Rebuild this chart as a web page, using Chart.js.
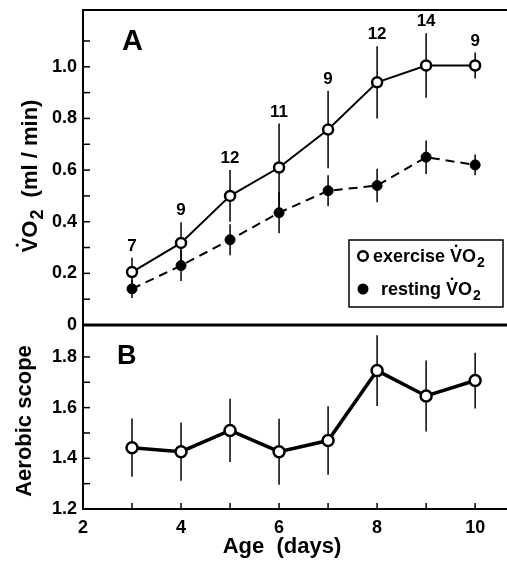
<!DOCTYPE html>
<html>
<head>
<meta charset="utf-8">
<script src="https://cdn.jsdelivr.net/npm/chart.js@4.4.1/dist/chart.umd.min.js"></script>
<style>
html, body { margin: 0; padding: 0; background: #fff; }
#wrap { position: relative; width: 507px; height: 564px; overflow: hidden; }
#top { position: absolute; left: 0; top: 0; z-index: 2; }
#bot { position: absolute; left: 0; top: 325px; z-index: 1; }
</style>
</head>
<body>
<div id="wrap">
  <canvas id="bot" width="507" height="239" style="width:507px;height:239px"></canvas>
  <canvas id="top" width="507" height="340" style="width:507px;height:340px"></canvas>
</div>
<script>
// values
var ages = [3, 4, 5, 6, 7, 8, 9, 10];
var exerciseVO2 = [0.205, 0.318, 0.50, 0.61, 0.757, 0.94, 1.005, 1.005];
var exerciseErr = [0.055, 0.08, 0.10, 0.17, 0.15, 0.14, 0.125, 0.05];
var restingVO2 = [0.14, 0.23, 0.33, 0.435, 0.52, 0.54, 0.65, 0.62];
var restingErr = [0.035, 0.06, 0.06, 0.08, 0.06, 0.065, 0.065, 0.04];
var sampleN = [7, 9, 12, 11, 9, 12, 14, 9];
var aerobicScope = [1.442, 1.426, 1.51, 1.426, 1.47, 1.746, 1.646, 1.707];
var scopeErr = [0.115, 0.115, 0.125, 0.13, 0.135, 0.14, 0.14, 0.11];

var FONT = '"Liberation Sans", Arial, Helvetica, sans-serif';
Chart.defaults.font.family = FONT;
Chart.defaults.color = '#000';

function pts(ys) {
    return ages.map(function (a, i) { return { x: a, y: ys[i] }; });
}

// fixed axis sizes, no automatic label padding
function fixY(s) { s.width = 83; s.paddingTop = 0; s.paddingBottom = 0; }
function fixX(s) { s.height = 55; s.paddingLeft = 0; s.paddingRight = 0; }

// draws V-dot O subscript 2, left aligned on baseline y, returns width
function drawVO2(ctx, x, y, size) {
    ctx.font = 'bold ' + size + 'px ' + FONT;
    ctx.textAlign = 'left';
    ctx.textBaseline = 'alphabetic';
    var wV = ctx.measureText('V').width;
    ctx.fillText('V', x, y);
    ctx.beginPath();
    ctx.arc(x + wV / 2, y - size * 0.9, size * 0.075, 0, Math.PI * 2);
    ctx.fill();
    var wO = ctx.measureText('O').width;
    ctx.fillText('O', x + wV, y);
    ctx.font = 'bold ' + Math.round(size * 0.8) + 'px ' + FONT;
    ctx.fillText('2', x + wV + wO + 1, y + size * 0.28);
    return wV + wO + 1 + ctx.measureText('2').width;
}

function errorBars(chart, xs, ys, es) {
    var ctx = chart.ctx, sx = chart.scales.x, sy = chart.scales.y;
    ctx.save();
    ctx.strokeStyle = '#000';
    ctx.lineWidth = 1.5;
    for (var i = 0; i < xs.length; i++) {
        var px = sx.getPixelForValue(xs[i]);
        ctx.beginPath();
        ctx.moveTo(px, sy.getPixelForValue(ys[i] - es[i]));
        ctx.lineTo(px, sy.getPixelForValue(ys[i] + es[i]));
        ctx.stroke();
    }
    ctx.restore();
}

var topPlugin = {
    id: 'topPanel',
    beforeDatasetsDraw: function (chart) {
        errorBars(chart, ages, exerciseVO2, exerciseErr);
        errorBars(chart, ages, restingVO2, restingErr);
    },
    afterDatasetsDraw: function (chart) {
        var ctx = chart.ctx, sx = chart.scales.x, sy = chart.scales.y;
        ctx.save();
        ctx.fillStyle = '#000';
        ctx.font = 'bold 17px ' + FONT;
        ctx.textAlign = 'center';
        ctx.textBaseline = 'bottom';
        for (var i = 0; i < ages.length; i++) {
            ctx.fillText(String(sampleN[i]), sx.getPixelForValue(ages[i]),
                sy.getPixelForValue(exerciseVO2[i] + exerciseErr[i]) - 3);
        }
        ctx.restore();
    },
    afterDraw: function (chart) {
        var ctx = chart.ctx, a = chart.chartArea, sy = chart.scales.y;
        ctx.save();
        ctx.strokeStyle = '#000';
        ctx.fillStyle = '#000';
        // frame
        ctx.lineWidth = 2;
        ctx.beginPath();
        ctx.moveTo(a.left, chart.height);
        ctx.lineTo(a.left, a.top);
        ctx.lineTo(a.right, a.top);
        ctx.stroke();
        ctx.lineWidth = 3;
        ctx.beginPath();
        ctx.moveTo(a.left, a.bottom);
        ctx.lineTo(a.right, a.bottom);
        ctx.stroke();
        // inward ticks
        ctx.lineWidth = 1.5;
        for (var k = 1; k <= 11; k++) {
            var py = sy.getPixelForValue(k / 10);
            ctx.beginPath();
            ctx.moveTo(a.left, py);
            ctx.lineTo(a.left + 7, py);
            ctx.stroke();
        }
        // panel letter
        ctx.font = 'bold 29px ' + FONT;
        ctx.textAlign = 'left';
        ctx.textBaseline = 'alphabetic';
        ctx.fillText('A', 122, 50);
        // legend box
        ctx.lineWidth = 1.5;
        ctx.strokeRect(349, 240, 154, 67);
        ctx.lineWidth = 2.5;
        ctx.fillStyle = '#fff';
        ctx.beginPath();
        ctx.arc(363, 256, 4.8, 0, Math.PI * 2);
        ctx.fill();
        ctx.stroke();
        ctx.fillStyle = '#000';
        ctx.beginPath();
        ctx.arc(363, 289, 5.5, 0, Math.PI * 2);
        ctx.fill();
        ctx.font = 'bold 18px ' + FONT;
        ctx.fillText('exercise ', 373, 262);
        var w = ctx.measureText('exercise ').width;
        drawVO2(ctx, 373 + w, 262, 18);
        ctx.font = 'bold 18px ' + FONT;
        ctx.fillText('resting ', 381, 295);
        w = ctx.measureText('resting ').width;
        drawVO2(ctx, 381 + w, 295, 18);
        // y title
        ctx.translate(37, 176);
        ctx.rotate(-Math.PI / 2);
        ctx.font = 'bold 22px ' + FONT;
        var rest = '  (ml / min)';
        var wr = ctx.measureText(rest).width;
        ctx.save();
        var tmp = drawVO2(ctx, -1000, -1000, 22);
        ctx.restore();
        var x0 = -(tmp + wr) / 2;
        var wv = drawVO2(ctx, x0, 0, 22);
        ctx.font = 'bold 22px ' + FONT;
        ctx.fillText(rest, x0 + wv, 0);
        ctx.restore();
    }
};

var botPlugin = {
    id: 'botPanel',
    beforeDatasetsDraw: function (chart) {
        errorBars(chart, ages, aerobicScope, scopeErr);
    },
    afterDraw: function (chart) {
        var ctx = chart.ctx, a = chart.chartArea, sx = chart.scales.x, sy = chart.scales.y;
        ctx.save();
        ctx.strokeStyle = '#000';
        ctx.fillStyle = '#000';
        ctx.lineWidth = 2;
        ctx.beginPath();
        ctx.moveTo(a.left, 0);
        ctx.lineTo(a.left, a.bottom);
        ctx.lineTo(a.right, a.bottom);
        ctx.stroke();
        ctx.lineWidth = 1.5;
        for (var k = 13; k <= 18; k++) {
            var py = sy.getPixelForValue(k / 10);
            ctx.beginPath();
            ctx.moveTo(a.left, py);
            ctx.lineTo(a.left + 7, py);
            ctx.stroke();
        }
        for (var d = 3; d <= 10; d++) {
            var px = sx.getPixelForValue(d);
            ctx.beginPath();
            ctx.moveTo(px, a.bottom);
            ctx.lineTo(px, a.bottom - 6);
            ctx.stroke();
        }
        ctx.font = 'bold 27px ' + FONT;
        ctx.textAlign = 'left';
        ctx.textBaseline = 'alphabetic';
        ctx.fillText('B', 117, 39);
        ctx.font = 'bold 22px ' + FONT;
        ctx.textAlign = 'center';
        ctx.fillText('Age  (days)', 282, 228);
        ctx.translate(31, 96);
        ctx.rotate(-Math.PI / 2);
        ctx.fillText('Aerobic scope', 0, 0);
        ctx.restore();
    }
};

var tickFont = { size: 18, weight: 'bold' };

new Chart(document.getElementById('top'), {
    type: 'line',
    data: {
        datasets: [{
            label: 'exercise VO2',
            data: pts(exerciseVO2),
            borderColor: '#000',
            borderWidth: 2,
            pointRadius: 5,
            pointBorderWidth: 2.5,
            pointBackgroundColor: '#fff',
            pointBorderColor: '#000'
        }, {
            label: 'resting VO2',
            data: pts(restingVO2),
            borderColor: '#000',
            borderWidth: 2,
            borderDash: [9, 6],
            pointRadius: 5,
            pointBorderWidth: 1,
            pointBackgroundColor: '#000',
            pointBorderColor: '#000'
        }]
    },
    options: {
        responsive: false,
        animation: false,
        layout: { autoPadding: false, padding: { top: 10, right: 0, bottom: 15, left: 0 } },
        plugins: { legend: { display: false }, tooltip: { enabled: false } },
        scales: {
            x: { type: 'linear', min: 2, max: 10.65, display: false },
            y: {
                min: 0, max: 1.22,
                afterFit: fixY,
                grid: { display: false, drawTicks: false },
                border: { display: false },
                ticks: {
                    stepSize: 0.2, includeBounds: false, padding: 6, font: tickFont,
                    callback: function (v) {
                        var t = Math.round(v * 10);
                        if (t > 10) return null;
                        return t === 0 ? '0' : (t / 10).toFixed(1);
                    }
                }
            }
        }
    },
    plugins: [topPlugin]
});

new Chart(document.getElementById('bot'), {
    type: 'line',
    data: {
        datasets: [{
            label: 'Aerobic scope',
            data: pts(aerobicScope),
            borderColor: '#000',
            borderWidth: 3.5,
            pointRadius: 5.5,
            pointBorderWidth: 2.5,
            pointBackgroundColor: '#fff',
            pointBorderColor: '#000'
        }]
    },
    options: {
        responsive: false,
        animation: false,
        layout: { autoPadding: false, padding: { top: 0, right: 0, bottom: 0, left: 0 } },
        plugins: { legend: { display: false }, tooltip: { enabled: false } },
        scales: {
            x: {
                type: 'linear', min: 2, max: 10.65,
                afterFit: fixX,
                grid: { display: false, drawTicks: false },
                border: { display: false },
                ticks: {
                    stepSize: 2, includeBounds: false, autoSkip: false, maxRotation: 0,
                    padding: 8, font: tickFont,
                    callback: function (v) { return String(v); }
                }
            },
            y: {
                min: 1.2, max: 1.926,
                afterFit: fixY,
                grid: { display: false, drawTicks: false },
                border: { display: false },
                ticks: {
                    stepSize: 0.2, includeBounds: false, padding: 6, font: tickFont,
                    callback: function (v) {
                        var t = Math.round(v * 10);
                        if (t > 18) return null;
                        return (t / 10).toFixed(1);
                    }
                }
            }
        }
    },
    plugins: [botPlugin]
});
</script>
</body>
</html>
